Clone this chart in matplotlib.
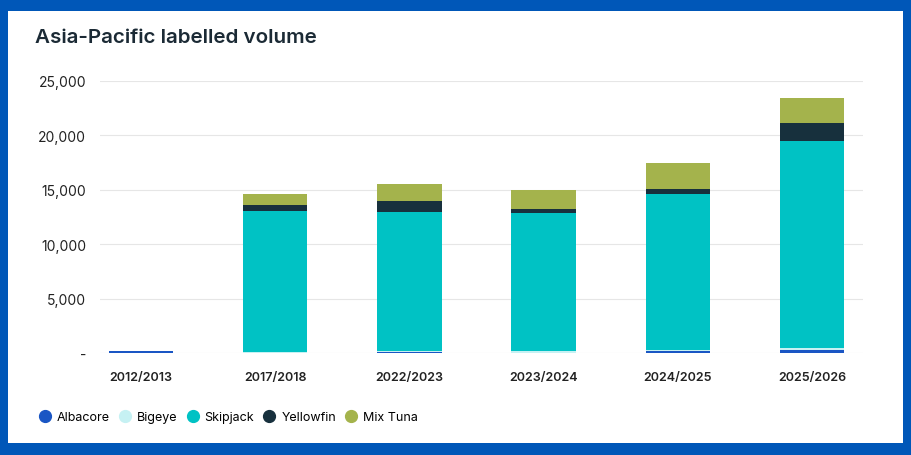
import numpy as np
import matplotlib
matplotlib.use("Agg")
import matplotlib.pyplot as plt
from matplotlib.patches import Rectangle
from matplotlib.lines import Line2D

plt.rcParams['font.family'] = ['Inter', 'DejaVu Sans']

seasons = ['2012/2013', '2017/2018', '2022/2023', '2023/2024', '2024/2025', '2025/2026']
species = ['Albacore', 'Bigeye', 'Skipjack', 'Yellowfin', 'Mix Tuna']
albacore = [150, 0, 60, 40, 180, 280]
bigeye = [0, 80, 140, 130, 120, 150]
skipjack = [0, 12970, 12760, 12700, 14300, 19060]
yellowfin = [0, 550, 1040, 360, 470, 1650]
mix_tuna = [0, 1000, 1500, 1770, 2390, 2300]
colors = ['#1a56c4', '#c6f1f3', '#00c2c4', '#17303d', '#a4b34c']

series = [albacore, bigeye, skipjack, yellowfin, mix_tuna]

fig = plt.figure(figsize=(9.12, 4.56), dpi=100)
fig.patch.set_facecolor('#0057b8')
# white card behind everything
card = Rectangle((8 / 912, 12 / 456), 895 / 912, 432 / 456,
                 transform=fig.transFigure, facecolor='white',
                 edgecolor='none', zorder=-10)
fig.patches.append(card)

fig.text(35 / 912, 1 - 38 / 456, 'Asia-Pacific labelled volume', fontsize=14.8,
         fontweight='semibold', color='#1b2a35', va='center', ha='left')

ax = fig.add_axes([100 / 912, 1 - 354 / 456, 763 / 912, 272 / 456])
ax.set_zorder(2)
ax.set_facecolor('none')
x = np.arange(len(seasons))
bottom = np.zeros(len(seasons))
for name, vals, c in zip(species, series, colors):
    ax.bar(x, vals, width=0.48, bottom=bottom, color=c, label=name, zorder=3)
    bottom += np.array(vals)

ax.set_xlim(-0.305, 5.38)
ax.set_ylim(0, 25000)
ax.set_yticks(np.arange(0, 25001, 5000))
ax.set_yticklabels(['-'] + ['{:,}'.format(v) for v in range(5000, 25001, 5000)])
ax.set_xticks(x)
ax.set_xticklabels(seasons, fontweight='semibold')
ax.grid(axis='y', color='#e6e6e6', linewidth=0.8, zorder=0)
for s in ax.spines.values():
    s.set_visible(False)
ax.tick_params(axis='y', length=0, pad=10, labelsize=10, labelcolor='#222222')
ax.tick_params(axis='x', length=0, pad=13, labelsize=9, labelcolor='#222222')

handles = [Line2D([], [], marker='o', linestyle='none', markersize=8.5,
                  markerfacecolor=c, markeredgecolor=c) for c in colors]
leg = fig.legend(handles, species, loc='center left', bbox_to_anchor=(27 / 912, 1 - 418 / 456),
                 ncol=5, frameon=False, fontsize=9, handletextpad=0.46, columnspacing=0.72,
                 handlelength=1.0)
leg.set_zorder(3)

fig.savefig('out.png', dpi=100, facecolor=fig.get_facecolor())
